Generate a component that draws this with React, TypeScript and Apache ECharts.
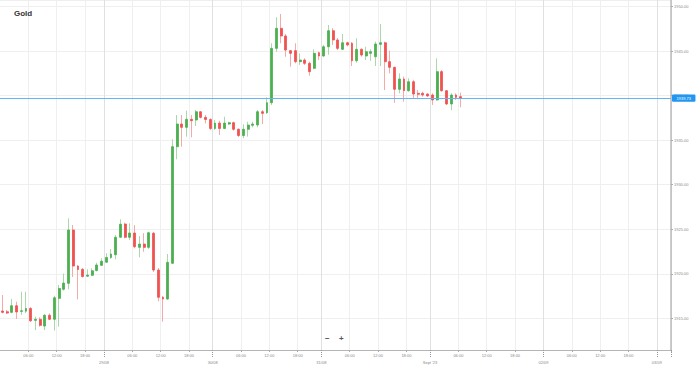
import React, { useEffect, useRef } from 'react';
import * as echarts from 'echarts';

// Day blocks on the hourly category axis (tick labels for day boundaries)
const dayLabels = ['28/08', '29/08', '30/08', '31/08', "Sept '23", '02/09', '03/09'];
const dayHourCounts = [22, 23, 23, 23, 24, 24, 3];
const timeLabels: Record<number, string> = { 6: '06:00', 12: '12:00', 18: '18:00' };

const opens = [
  1915.82, 1915.74, 1915.67, 1916.41, 1915.78, 1915.80, 1916.10, 1914.77, 1914.89, 1914.13,
  1915.34, 1914.89, 1917.24, 1918.26, 1918.93, 1924.92, 1920.87, 1920.50, 1919.73, 1919.83,
  1920.37, 1920.95, 1921.30, 1921.83, 1922.14, 1924.10, 1925.59, 1924.10, 1924.58, 1922.97,
  1923.34, 1922.97, 1924.55, 1920.42, 1917.36, 1917.17, 1921.18, 1934.27, 1936.82, 1936.45,
  1937.35, 1937.27, 1938.20, 1937.57, 1937.33, 1936.32, 1936.93, 1936.32, 1936.82, 1936.97,
  1936.23, 1935.53, 1936.23, 1936.68, 1936.71, 1938.20, 1938.09, 1939.21, 1945.32, 1947.57,
  1946.71, 1945.06, 1945.06, 1943.82, 1944.01, 1943.64, 1943.08, 1944.83, 1944.46, 1945.50,
  1947.30, 1946.26, 1945.21, 1945.95, 1945.89, 1943.93, 1945.21, 1944.46, 1944.76, 1944.38,
  1945.77, 1945.95, 1943.82, 1943.19, 1940.72, 1941.88, 1940.56, 1941.57, 1940.27, 1940.27,
  1940.19, 1940.08, 1939.52, 1942.70, 1940.56, 1939.07, 1940.08, 1939.89,
];
const closes = [
  1915.67, 1915.59, 1916.41, 1915.71, 1915.85, 1916.10, 1914.72, 1914.89, 1914.21, 1915.34,
  1914.89, 1917.31, 1918.35, 1918.96, 1924.92, 1920.87, 1920.48, 1919.69, 1919.86, 1920.34,
  1920.99, 1921.41, 1921.83, 1922.22, 1924.10, 1925.57, 1924.10, 1924.58, 1923.04, 1923.34,
  1922.97, 1924.61, 1920.42, 1917.36, 1917.17, 1921.29, 1934.27, 1936.82, 1936.45, 1937.35,
  1937.19, 1938.20, 1937.57, 1937.33, 1936.32, 1936.93, 1936.32, 1936.93, 1936.97, 1936.23,
  1935.53, 1936.23, 1936.71, 1936.82, 1938.20, 1938.02, 1939.21, 1945.32, 1947.57, 1946.71,
  1945.13, 1944.76, 1943.82, 1944.01, 1943.64, 1942.70, 1944.76, 1944.46, 1945.50, 1947.30,
  1946.26, 1945.32, 1945.95, 1945.70, 1943.93, 1945.21, 1944.57, 1944.94, 1944.94, 1945.81,
  1945.95, 1943.82, 1943.19, 1940.72, 1941.88, 1940.56, 1941.57, 1940.19, 1940.16, 1940.08,
  1939.97, 1939.52, 1942.70, 1940.56, 1939.07, 1940.08, 1939.82, 1939.73,
];
const lows = [
  1915.56, 1915.48, 1915.56, 1914.92, 1915.37, 1915.59, 1914.58, 1913.68, 1914.06, 1913.68,
  1914.81, 1913.63, 1914.06, 1918.12, 1918.26, 1919.64, 1917.13, 1919.58, 1919.64, 1919.75,
  1920.26, 1920.87, 1921.21, 1921.66, 1921.63, 1924.02, 1923.98, 1923.79, 1922.86, 1921.85,
  1922.48, 1922.78, 1920.20, 1916.91, 1914.62, 1917.05, 1921.10, 1932.86, 1934.27, 1935.40,
  1935.33, 1936.60, 1937.46, 1936.90, 1936.15, 1936.15, 1935.59, 1936.23, 1936.71, 1936.07,
  1935.36, 1935.22, 1935.40, 1936.45, 1936.45, 1936.82, 1937.95, 1938.96, 1944.94, 1945.89,
  1944.38, 1943.26, 1943.64, 1943.45, 1943.45, 1942.25, 1942.97, 1944.01, 1944.38, 1944.60,
  1945.70, 1945.13, 1945.13, 1945.53, 1943.34, 1943.71, 1944.38, 1944.01, 1943.93, 1943.34,
  1943.34, 1940.64, 1942.52, 1939.21, 1940.27, 1939.33, 1940.45, 1939.71, 1939.60, 1939.89,
  1939.86, 1938.96, 1939.44, 1940.45, 1938.96, 1938.39, 1939.52, 1938.70,
];
const highs = [
  1917.62, 1915.93, 1917.17, 1916.86, 1917.99, 1917.99, 1916.27, 1915.18, 1915.11, 1915.48,
  1915.56, 1917.54, 1918.74, 1920.03, 1926.23, 1925.48, 1920.99, 1920.65, 1920.50, 1920.61,
  1921.24, 1921.74, 1922.30, 1922.78, 1924.35, 1926.12, 1925.74, 1925.67, 1925.48, 1924.24,
  1924.55, 1924.73, 1924.69, 1920.65, 1917.50, 1922.22, 1935.10, 1937.83, 1937.83, 1938.32,
  1937.83, 1938.39, 1938.26, 1937.83, 1937.46, 1937.27, 1937.19, 1937.64, 1937.08, 1937.08,
  1936.34, 1936.79, 1937.08, 1937.08, 1938.39, 1938.39, 1939.82, 1945.89, 1948.81, 1949.18,
  1946.93, 1945.13, 1945.89, 1944.76, 1944.20, 1943.82, 1945.21, 1944.94, 1945.70, 1947.94,
  1947.60, 1946.48, 1946.93, 1946.07, 1946.03, 1946.45, 1945.32, 1945.50, 1945.21, 1946.07,
  1948.05, 1946.07, 1945.06, 1943.26, 1942.52, 1942.14, 1941.96, 1941.76, 1940.64, 1940.45,
  1940.30, 1940.27, 1944.20, 1942.89, 1940.64, 1940.27, 1940.27, 1940.34,
];

const lastPrice = 1939.73;
const yMin = 1911.44;
const yMax = 1950.75;

type Slot = { day: string; hour: number };
const slots: Slot[] = [];
dayLabels.forEach((d, di) => {
  for (let h = 0; h < dayHourCounts[di]; h++) slots.push({ day: d, hour: h });
});
const categories = slots.map((s) => `${s.day} ${String(s.hour).padStart(2, '0')}:00`);

const isLabel = (i: number) => i > 0 && !!slots[i] && slots[i].hour % 6 === 0;
const isTimeTick = (i: number) => isLabel(i) && slots[i].hour !== 0;
const isDayTick = (i: number) => i > 0 && !!slots[i] && slots[i].hour === 0;

const FONT = 'Liberation Sans, Arial, sans-serif';
const UP = '#4caf50';
const DOWN = '#ef5350';
const UP_WICK = '#a9d8ab';
const DOWN_WICK = '#f5aaaa';

export default function App() {
  const ref = useRef<HTMLDivElement>(null);
  useEffect(() => {
    if (!ref.current) return;
    const chart = echarts.init(ref.current, undefined, { renderer: 'svg' });
    const wickData = opens.map((o, i) => [o, closes[i], lows[i], highs[i]]);
    const bodyData = opens.map((o, i) => [o, closes[i], Math.min(o, closes[i]), Math.max(o, closes[i])]);
    chart.setOption({
      animation: false,
      backgroundColor: '#ffffff',
      textStyle: { fontFamily: FONT },
      title: {
        text: 'Gold',
        left: 9,
        top: 4,
        textStyle: { fontSize: 8, fontWeight: 'bold', color: '#333', fontFamily: FONT },
      },
      grid: { left: 0, right: 27, top: 0, bottom: 16, containLabel: false },
      xAxis: [
        {
          type: 'category',
          data: categories,
          boundaryGap: true,
          position: 'bottom',
          axisLine: { show: true, lineStyle: { color: '#b5b5b5', width: 1 } },
          axisTick: { show: true, interval: (i: number) => isTimeTick(i), length: 2, lineStyle: { color: '#aaa' } },
          axisLabel: {
            interval: (i: number) => isLabel(i),
            formatter: (_v: string, i: number) => {
              const s = slots[i];
              if (!s) return '';
              return s.hour === 0 ? '\n' + s.day : timeLabels[s.hour] || '';
            },
            fontSize: 4,
            color: '#888',
            margin: 1.5,
            lineHeight: 7,
            padding: [0, 4.7, 0, 0],
          },
          splitLine: { show: true, interval: (i: number) => isTimeTick(i), lineStyle: { color: '#efefef', width: 1 } },
        },
        {
          type: 'category',
          data: categories,
          boundaryGap: true,
          position: 'bottom',
          axisLine: { show: false },
          axisTick: { show: true, interval: (i: number) => isDayTick(i), length: 8, lineStyle: { color: '#999', type: 'dotted' } },
          axisLabel: { show: false },
          splitLine: { show: true, interval: (i: number) => isDayTick(i), lineStyle: { color: '#e0e0e0', width: 1 } },
        },
      ],
      yAxis: {
        type: 'value',
        position: 'right',
        min: yMin,
        max: yMax,
        splitNumber: 8,
        minInterval: 5,
        maxInterval: 5,
        axisLine: { show: true, lineStyle: { color: '#bdbdbd', width: 1.5 } },
        axisTick: { show: true, length: 2, lineStyle: { color: '#aaa' } },
        axisLabel: {
          fontSize: 4,
          color: '#888',
          margin: 3,
          showMinLabel: false,
          showMaxLabel: false,
          formatter: (v: number) => v.toFixed(2),
        },
        splitLine: { show: true, lineStyle: { color: '#efefef', width: 1 } },
      },
      series: [
        {
          type: 'candlestick',
          name: 'wicks',
          xAxisIndex: 0,
          data: wickData,
          barWidth: 0.01,
          silent: true,
          itemStyle: { color: UP_WICK, color0: DOWN_WICK, borderColor: UP_WICK, borderColor0: DOWN_WICK, borderWidth: 1 },
        },
        {
          type: 'candlestick',
          name: 'Gold',
          xAxisIndex: 0,
          data: bodyData,
          barWidth: 2.4,
          itemStyle: { color: UP, color0: DOWN, borderColor: UP, borderColor0: DOWN, borderWidth: 0.8 },
          markLine: {
            silent: true,
            symbol: ['none', 'none'],
            data: [{ yAxis: lastPrice }],
            lineStyle: { color: '#64b5f6', width: 1, type: 'solid' },
            label: {
              show: true,
              position: 'end',
              formatter: lastPrice.toFixed(2),
              backgroundColor: '#2196f3',
              color: '#fff',
              fontSize: 4,
              padding: [1.6, 4.5],
              borderRadius: 1,
              distance: 1,
            },
          },
        },
      ],
      graphic: [
        { type: 'text', left: 325, top: 334, style: { text: '−', fontSize: 8, fontWeight: 'bold', fill: '#555', fontFamily: FONT } },
        { type: 'text', left: 339, top: 334, style: { text: '+', fontSize: 8, fontWeight: 'bold', fill: '#555', fontFamily: FONT } },
      ],
    });
    return () => chart.dispose();
  }, []);
  return (
    <div
      ref={ref}
      style={{ position: 'fixed', left: 0, top: 0, width: 698, height: 366, background: '#fff' }}
    />
  );
}
